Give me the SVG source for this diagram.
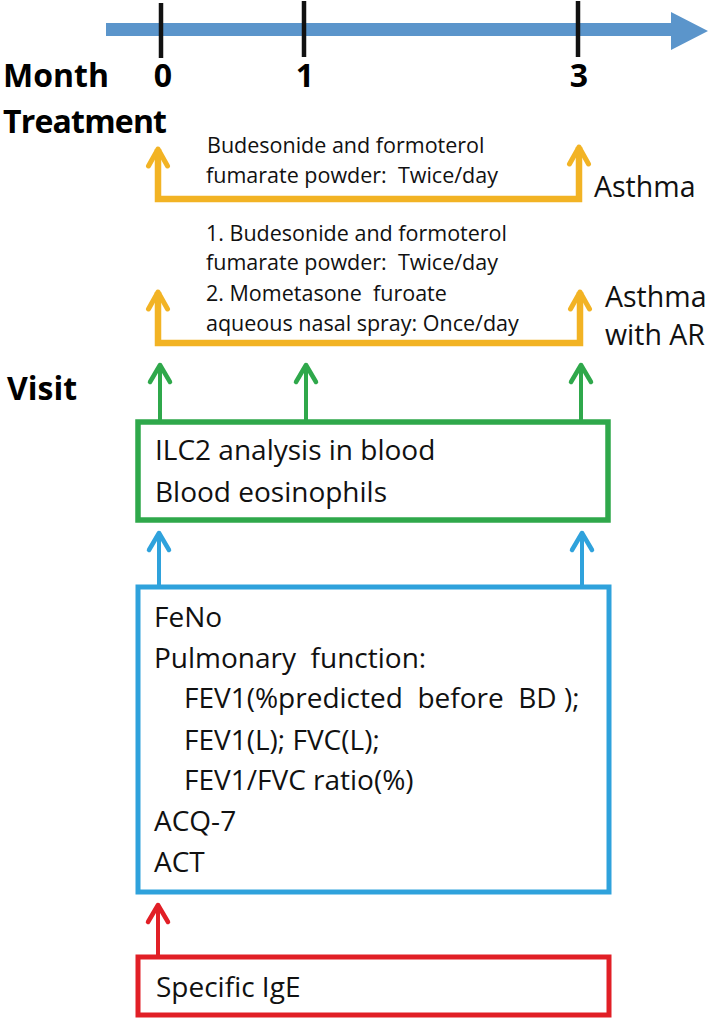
<svg xmlns="http://www.w3.org/2000/svg" width="709" height="1018" viewBox="0 0 709 1018">
<style>
.lbl{font-family:"Open Sans","Liberation Sans",sans-serif;font-weight:bold;font-size:32px;fill:#000}
.num{font-family:"Open Sans","Liberation Sans",sans-serif;font-weight:bold;font-size:32px;fill:#000;text-anchor:middle}
.tr{font-family:"Open Sans","Liberation Sans",sans-serif;font-size:21.5px;fill:#111;white-space:pre}
.grp{font-family:"Open Sans","Liberation Sans",sans-serif;font-size:28.5px;fill:#111}
.box{font-family:"Open Sans","Liberation Sans",sans-serif;font-size:28px;fill:#111;white-space:pre}
.tick{stroke:#111;stroke-width:4.5}
.yl{fill:none;stroke:#F2B324;stroke-width:6.5;stroke-linejoin:miter}
.gr{stroke:#2FA84B;stroke-width:4;fill:none}
.bl{stroke:#2FA2DC;stroke-width:4;fill:none}
.rd{stroke:#E11F26;stroke-width:4;fill:none}
</style>
<defs>
<marker id="mY" markerUnits="userSpaceOnUse" markerWidth="30" markerHeight="30" viewBox="-20 -15 25 30" refX="0" refY="0" orient="auto-start-reverse">
<path d="M-17,-9.5 L0,0 L-17,9.5" fill="none" stroke="#F2B324" stroke-width="5" stroke-linecap="round" stroke-linejoin="round"/>
</marker>
<marker id="mG" markerUnits="userSpaceOnUse" markerWidth="30" markerHeight="30" viewBox="-20 -15 25 30" refX="0" refY="0" orient="auto">
<path d="M-17,-10 L0,0 L-17,10" fill="none" stroke="#2FA84B" stroke-width="4.5" stroke-linecap="round" stroke-linejoin="round"/>
</marker>
<marker id="mB" markerUnits="userSpaceOnUse" markerWidth="30" markerHeight="30" viewBox="-20 -15 25 30" refX="0" refY="0" orient="auto">
<path d="M-17,-10 L0,0 L-17,10" fill="none" stroke="#2FA2DC" stroke-width="4.5" stroke-linecap="round" stroke-linejoin="round"/>
</marker>
<marker id="mR" markerUnits="userSpaceOnUse" markerWidth="30" markerHeight="30" viewBox="-20 -15 25 30" refX="0" refY="0" orient="auto">
<path d="M-17,-10 L0,0 L-17,10" fill="none" stroke="#E11F26" stroke-width="4.5" stroke-linecap="round" stroke-linejoin="round"/>
</marker>
</defs>
<rect width="709" height="1018" fill="#fff"/>

<g id="timeline">
<polygon points="106,23 671,23 671,12 708,31 671,50 671,36 106,36" fill="#5B95CB"/>
<line class="tick" x1="161" y1="3" x2="161" y2="58"/>
<line class="tick" x1="304" y1="1" x2="304" y2="57"/>
<line class="tick" x1="578" y1="1" x2="578" y2="57"/>
<text class="num" x="163" y="87">0</text>
<text class="num" x="305" y="87">1</text>
<text class="num" x="579" y="87">3</text>
</g>

<g id="labels">
<text class="lbl" x="3" y="87">Month</text>
<text class="lbl" x="3" y="133" textLength="164">Treatment</text>
<text class="lbl" x="7" y="400">Visit</text>
</g>

<g id="treatment-asthma">
<text class="tr" x="207" y="153">Budesonide and formoterol</text>
<text class="tr" x="206" y="183">fumarate powder:  Twice/day</text>
<text class="grp" x="594" y="197">Asthma</text>
</g>

<g id="treatment-asthma-ar">
<text class="tr" x="206" y="241">1. Budesonide and formoterol</text>
<text class="tr" x="206" y="270">fumarate powder:  Twice/day</text>
<text class="tr" x="206" y="301">2. Mometasone  furoate</text>
<text class="tr" x="206" y="331">aqueous nasal spray: Once/day</text>
<text class="grp" x="605" y="307">Asthma</text>
<text class="grp" x="605" y="345">with AR</text>
</g>

<g id="node-ilc2">
<rect x="138" y="422" width="470" height="98" fill="none" stroke="#2FA84B" stroke-width="5.5"/>
<text class="box" x="155" y="460">ILC2 analysis in blood</text>
<text class="box" x="155" y="502">Blood eosinophils</text>
</g>

<g id="node-lung">
<rect x="138" y="587" width="471" height="305" fill="none" stroke="#2FA2DC" stroke-width="5"/>
<text class="box" x="154" y="627">FeNo</text>
<text class="box" x="154" y="668">Pulmonary  function:</text>
<text class="box" x="184" y="708">FEV1(%predicted  before  BD );</text>
<text class="box" x="184" y="750">FEV1(L); FVC(L);</text>
<text class="box" x="184" y="790">FEV1/FVC ratio(%)</text>
<text class="box" x="154" y="831">ACQ-7</text>
<text class="box" x="154" y="872">ACT</text>
</g>

<g id="node-ige">
<rect x="138" y="957" width="471" height="58" fill="none" stroke="#E11F26" stroke-width="5"/>
<text class="box" x="156" y="997">Specific IgE</text>
</g>

<g id="connectors">
<path class="yl" d="M158,149 L158,199 L579,199 L579,147" marker-start="url(#mY)" marker-end="url(#mY)"/>
<path class="yl" d="M158,292 L158,343 L580,343 L580,292" marker-start="url(#mY)" marker-end="url(#mY)"/>
<line class="gr" x1="160" y1="420" x2="160" y2="365" marker-end="url(#mG)"/>
<line class="gr" x1="306" y1="420" x2="306" y2="365" marker-end="url(#mG)"/>
<line class="gr" x1="581" y1="420" x2="581" y2="365" marker-end="url(#mG)"/>
<line class="bl" x1="159" y1="585" x2="159" y2="533" marker-end="url(#mB)"/>
<line class="bl" x1="582" y1="585" x2="582" y2="533" marker-end="url(#mB)"/>
<line class="rd" x1="158" y1="955" x2="158" y2="905" marker-end="url(#mR)"/>
</g>
</svg>
